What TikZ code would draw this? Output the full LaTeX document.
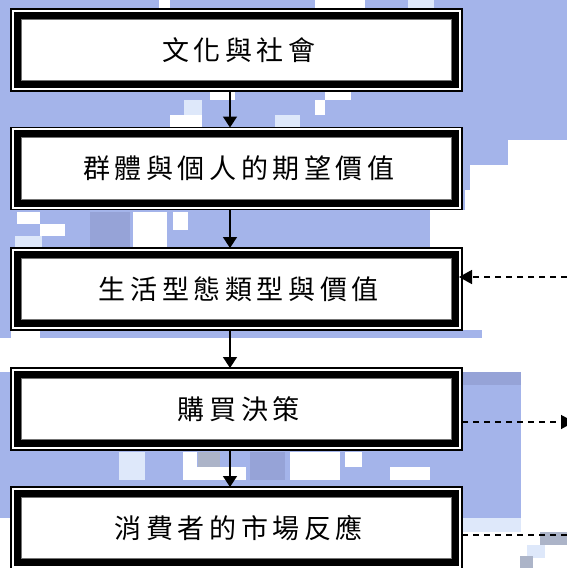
\documentclass[tikz,border=0pt]{standalone}
\usepackage{fontspec}
\newfontfamily\cjk[LetterSpace=17]{Noto Sans CJK TC}
\usetikzlibrary{arrows.meta,calc}
\definecolor{bgb}{RGB}{164,180,234}
\definecolor{bgd}{RGB}{150,163,215}
\definecolor{bgl}{RGB}{222,232,250}
\definecolor{bgg}{RGB}{172,180,200}
\tikzset{
  boxst/.style={draw=black, fill=white, line width=1.2pt, minimum width=451pt,
    minimum height=82pt, inner sep=0pt, outer sep=0pt,
    font=\cjk\fontsize{27}{30}\selectfont},
  thickframe/.style={draw=black, line width=7.5pt},
  innerline/.style={draw=black!55, line width=0.7pt},
  varr/.style={draw=black, line width=1.5pt, -{Triangle[width=14pt,length=11pt]}},
  darr/.style={draw=black, line width=1.5pt, dash pattern=on 6pt off 5pt,
    -{Triangle[width=14pt,length=13pt]}},
  dline/.style={draw=black, line width=1.5pt, dash pattern=on 6pt off 5pt},
}
\newcommand\myframebox[3]{%
  \node[boxst] (#1) at (236.5,#2) {\kern4.6pt #3};
  \draw[thickframe] ($(#1.north west)+(7,6.5)$) rectangle ($(#1.south east)+(-7,-6.5)$);
  \draw[innerline] ($(#1.north west)+(10.8,10.3)$) rectangle ($(#1.south east)+(-10.8,-10.3)$);
}
\begin{document}
\begin{tikzpicture}[x=1pt,y=-1pt]
\useasboundingbox (0,0) rectangle (567,568);
% background mosaic (approximation)
\fill[bgb] (0,0) rectangle (567,140);
\fill[bgb] (0,140) rectangle (508,165);
\fill[bgb] (0,165) rectangle (470,190);
\fill[bgb] (0,190) rectangle (465,210);
\fill[bgb] (0,210) rectangle (430,250);
\fill[bgb] (0,248) rectangle (11,338);
\fill[bgb] (40,330) rectangle (482,338);
\fill[bgb] (0,372) rectangle (521,518);
\fill[bgl] (462,518) rectangle (521,532);
\fill[bgd] (440,372) rectangle (521,385);
% white patches, top
\fill[white] (159,0) rectangle (170,8);
\fill[white] (315,0) rectangle (365,8);
\fill[bgl] (408,0) rectangle (434,8);
\fill[white] (210,92) rectangle (235,100);
\fill[white] (325,92) rectangle (351,100);
\fill[bgl] (184,100) rectangle (202,115);
\fill[white] (315,100) rectangle (325,115);
\fill[white] (170,115) rectangle (202,127);
\fill[bgl] (275,115) rectangle (300,127);
% white patches between box 2 and 3
\fill[white] (17,212) rectangle (40,224);
\fill[white] (40,224) rectangle (65,236);
\fill[bgl] (15,236) rectangle (42,248);
\fill[white] (133,212) rectangle (167,248);
\fill[white] (173,212) rectangle (188,230);
\fill[bgd] (90,212) rectangle (130,248);
% patches between box 4 and 5
\fill[bgl] (119,452) rectangle (145,480);
\fill[white] (183,452) rectangle (197,467);
\fill[white] (183,467) rectangle (246,480);
\fill[white] (290,452) rectangle (340,480);
\fill[white] (345,452) rectangle (362,467);
\fill[white] (390,467) rectangle (430,480);
\fill[bgg] (198,452) rectangle (220,467);
\fill[bgd] (250,452) rectangle (285,480);
% bottom right
\fill[bgg] (540,532) rectangle (567,545);
\fill[bgl] (527,545) rectangle (545,558);
\fill[bgg] (520,556) rectangle (533,568);
% boxes
\myframebox{b1}{50}{文化與社會}
\myframebox{b2}{168.5}{群體與個人的期望價值}
\myframebox{b3}{289}{生活型態類型與價值}
\myframebox{b4}{409}{購買決策}
\myframebox{b5}{528}{消費者的市場反應}
% vertical arrows
\coordinate (ax) at (230,0);
\draw[varr] (ax |- b1.south) -- (ax |- b2.north);
\draw[varr] (ax |- b2.south) -- (ax |- b3.north);
\draw[varr] (ax |- b3.south) -- (ax |- b4.north);
\draw[varr] (ax |- b4.south) -- (ax |- b5.north);
% dashed side connectors
\coordinate (f3) at (567,277);
\draw[darr, shorten >=-3pt] (f3) -- (f3 -| b3.east);
\coordinate (f4) at (574,422);
\draw[darr] (b4.east |- f4) -- (f4);
\coordinate (f5) at (567,535);
\draw[dline] (b5.east |- f5) -- (f5);
\end{tikzpicture}
\end{document}
